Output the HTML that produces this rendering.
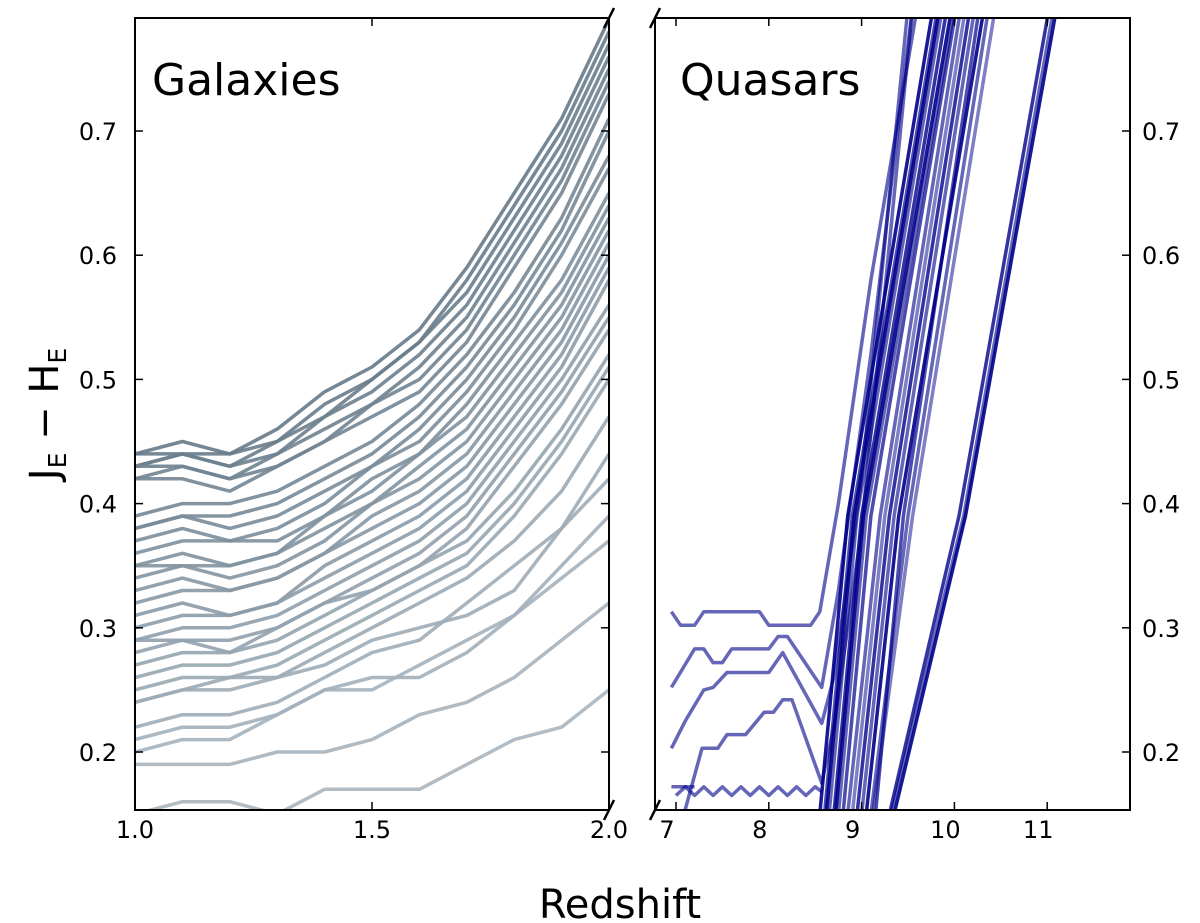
<!DOCTYPE html>
<html><head><meta charset="utf-8"><style>
html,body{margin:0;padding:0;background:#fff;}
svg{display:block;font-family:"DejaVu Sans","Liberation Sans",sans-serif;}
</style></head><body>
<svg id="chart" width="1200" height="923" viewBox="0 0 1200 923" xmlns="http://www.w3.org/2000/svg">
<defs>
<clipPath id="clipL"><rect x="135" y="18" width="474" height="792"/></clipPath>
<clipPath id="clipR"><rect x="655" y="18" width="475" height="792"/></clipPath>
</defs>
<g id="galaxyLines" clip-path="url(#clipL)"></g>
<g id="quasarLines" clip-path="url(#clipR)"></g>
<g id="axes"></g>
<text x="152" y="95" font-size="44" fill="#000">Galaxies</text>
<text x="680" y="95" font-size="44" fill="#000">Quasars</text>
<text x="620" y="918" font-size="40" text-anchor="middle" fill="#000">Redshift</text>
<text transform="translate(58,414) rotate(-90)" font-size="40" text-anchor="middle" fill="#000">J<tspan font-size="25" dy="8">E</tspan><tspan dy="-8"> − H</tspan><tspan font-size="25" dy="8">E</tspan></text>
</svg>
<script>
const galaxyZ = [1.0,1.1,1.2,1.3,1.4,1.5,1.6,1.7,1.8,1.9,2.0];
const galaxyColors = [
[.44,.45,.44,.46,.49,.51,.54,.59,.65,.71,.79],
[.44,.44,.44,.45,.48,.50,.53,.58,.64,.70,.78],
[.43,.44,.43,.45,.47,.50,.53,.57,.63,.69,.77],
[.43,.44,.43,.44,.47,.49,.52,.56,.62,.68,.76],
[.43,.43,.42,.44,.46,.48,.51,.55,.61,.67,.75],
[.42,.43,.42,.43,.45,.48,.50,.54,.60,.66,.74],
[.42,.42,.41,.43,.45,.47,.49,.53,.59,.65,.73],
[.39,.40,.40,.41,.43,.45,.48,.52,.57,.63,.71],
[.38,.39,.39,.40,.42,.44,.47,.51,.56,.62,.70],
[.38,.39,.38,.39,.41,.43,.46,.50,.55,.61,.68],
[.37,.38,.37,.38,.40,.43,.45,.49,.54,.60,.67],
[.36,.37,.37,.37,.39,.42,.44,.48,.53,.58,.65],
[.35,.36,.35,.36,.39,.41,.44,.47,.52,.57,.64],
[.35,.35,.35,.36,.38,.40,.43,.46,.51,.56,.63],
[.34,.35,.34,.35,.37,.40,.42,.45,.50,.55,.62],
[.33,.34,.33,.34,.36,.39,.41,.44,.49,.54,.61],
[.32,.33,.33,.34,.36,.38,.40,.43,.48,.53,.60],
[.31,.32,.31,.32,.35,.37,.39,.42,.47,.52,.59],
[.30,.31,.31,.32,.34,.36,.38,.41,.46,.51,.58],
[.29,.30,.30,.31,.33,.35,.37,.40,.45,.50,.56],
[.29,.29,.29,.30,.32,.34,.36,.39,.44,.49,.55],
[.28,.29,.28,.30,.32,.33,.35,.38,.43,.48,.54],
[.27,.28,.28,.29,.31,.33,.35,.37,.41,.46,.52],
[.26,.27,.27,.28,.30,.32,.34,.36,.40,.45,.51],
[.25,.26,.26,.27,.29,.31,.33,.35,.39,.44,.50],
[.24,.25,.26,.26,.28,.30,.32,.34,.37,.41,.47],
[.24,.25,.25,.26,.27,.29,.30,.31,.33,.38,.44],
[.22,.23,.23,.24,.26,.28,.29,.32,.35,.38,.42],
[.21,.22,.22,.23,.25,.26,.26,.28,.31,.35,.39],
[.20,.21,.21,.23,.25,.25,.27,.29,.31,.34,.37],
[.19,.19,.19,.20,.20,.21,.23,.24,.26,.29,.32],
[.15,.16,.16,.15,.17,.17,.17,.19,.21,.22,.25]
];
const quasarFlat = [
[[6.95,.313],[7.05,.302],[7.2,.302],[7.3,.313],[7.9,.313],[8.0,.302],[8.45,.302],[8.55,.313],[8.75,.40],[9.1,.58],[9.6,.80]],
[[6.95,.252],[7.2,.283],[7.3,.283],[7.4,.272],[7.5,.272],[7.6,.283],[8.0,.283],[8.1,.293],[8.2,.293],[8.57,.252],[8.75,.33],[9.1,.52],[9.55,.80]],
[[6.95,.203],[7.1,.225],[7.3,.25],[7.4,.252],[7.55,.264],[8.0,.264],[8.15,.28],[8.57,.223],[8.7,.26],[9.0,.42],[9.5,.80]],
[[7.05,.14],[7.28,.203],[7.45,.203],[7.55,.214],[7.75,.214],[7.95,.232],[8.05,.232],[8.15,.242],[8.25,.242],[8.57,.175],[8.7,.22],[9.0,.38],[9.55,.80]],
[[6.95,.172],[7.2,.172]],
[[7.0,.165],[7.1,.172],[7.2,.165],[7.3,.172],[7.4,.165],[7.5,.172],[7.6,.165],[7.7,.172],[7.8,.165],[7.9,.172],[8.0,.165],[8.1,.172],[8.2,.165],[8.3,.172],[8.4,.165],[8.5,.172],[8.57,.168]]
];
const steepBottom = [8.55,8.6,8.62,8.65,8.7,8.72,8.75,8.8,8.85,8.9,8.95,9.0,9.05,9.1,9.12,9.15,9.3,9.32,9.35];
const steepMid    = [8.85,8.9,8.92,8.95,9.0,9.02,9.05,9.1,9.2,9.25,9.3,9.35,9.4,9.5,9.55,9.45,10.05,10.1,10.12];
const steepTop    = [9.75,9.8,9.82,9.85,9.9,9.95,9.98,10.0,10.05,10.1,10.15,10.2,10.3,10.35,10.42,10.25,11.0,11.05,11.08];
const steepAlpha  = [0.9,0.7,0.9,0.6,0.8,0.9,0.6,0.7,0.6,0.5,0.8,0.6,0.9,0.6,0.5,0.7,0.8,0.6,0.9];
const yTicks = [0.2,0.3,0.4,0.5,0.6,0.7];
const xTicksL = [1.0,1.5,2.0];
const xTicksR = [7,8,9,10,11];

const NS = "http://www.w3.org/2000/svg";
const yS = v => 131 + (0.7 - v) * 1242;
const xL = z => 135 + (z - 1) * 474;
const xR = z => 676 + (z - 7) * 92.8;
function mk(tag, attrs, parent){const e=document.createElementNS(NS,tag);for(const k in attrs)e.setAttribute(k,attrs[k]);parent.appendChild(e);return e;}
function mix(a,b,t){return Math.round(a+(b-a)*t);}

const gG = document.getElementById('galaxyLines');
galaxyColors.forEach((row,i)=>{
  const t = i/(galaxyColors.length-1);
  const col = `rgb(${mix(0x66,0xa8,t)},${mix(0x7a,0xb5,t)},${mix(0x89,0xbf,t)})`;
  const d = row.map((v,j)=>(j?'L':'M')+xL(galaxyZ[j]).toFixed(1)+','+yS(v).toFixed(1)).join('');
  const p = mk('path',{d:d,fill:'none',stroke:col,'stroke-width':3.5,'stroke-opacity':0.9,'stroke-linejoin':'round'},gG);
  
  
});

const gQ = document.getElementById('quasarLines');
quasarFlat.forEach(line=>{
  const d = line.map((pt,j)=>(j?'L':'M')+xR(pt[0]).toFixed(1)+','+yS(pt[1]).toFixed(1)).join('');
  const p = mk('path',{d:d,fill:'none',stroke:'#00008b','stroke-width':3.5,'stroke-opacity':0.6,'stroke-linejoin':'round'},gQ);
  
  
});
steepBottom.forEach((zb,i)=>{
  const zm = steepMid[i], zt = steepTop[i];
  const pts = [[zb-(zm-zb)*0.15,0.114],[zb,0.15],[zm,0.39],[zt,0.79],[zt+(zt-zm)*0.1,0.83]];
  const d = pts.map((pt,j)=>(j?'L':'M')+xR(pt[0]).toFixed(1)+','+yS(pt[1]).toFixed(1)).join('');
  const p = mk('path',{d:d,fill:'none',stroke:'#00008b','stroke-width':3.5,'stroke-opacity':steepAlpha[i],'stroke-linejoin':'round'},gQ);
  
  
});

const ax = document.getElementById('axes');
mk('path',{d:'M609,18L135,18L135,810L609,810M609,18L609,810',fill:'none',stroke:'#000','stroke-width':2},ax);
mk('path',{d:'M655,18L1130,18L1130,810L655,810M655,18L655,810',fill:'none',stroke:'#000','stroke-width':2},ax);
[[609,18],[609,810],[655,18],[655,810]].forEach(([x,y])=>{
  const b = mk('line',{x1:x-5,y1:y+10,x2:x+5,y2:y-10,stroke:'#000','stroke-width':2.5},ax);
  
  
});
yTicks.forEach(v=>{
  const y = yS(v);
  mk('line',{x1:135,y1:y,x2:143,y2:y,stroke:'#000','stroke-width':1.5},ax);
  mk('line',{x1:601,y1:y,x2:609,y2:y,stroke:'#000','stroke-width':1.5},ax);
  mk('line',{x1:1122,y1:y,x2:1130,y2:y,stroke:'#000','stroke-width':1.5},ax);
  const t1 = mk('text',{x:117,y:y+9,'font-size':24,'text-anchor':'end'},ax);
  t1.textContent = v.toFixed(1);
  
  
  const t2 = mk('text',{x:1142,y:y+9,'font-size':24},ax);
  t2.textContent = v.toFixed(1);
  
  
});
xTicksL.forEach(z=>{
  const x = xL(z);
  mk('line',{x1:x,y1:810,x2:x,y2:802,stroke:'#000','stroke-width':1.5},ax);
  mk('line',{x1:x,y1:18,x2:x,y2:26,stroke:'#000','stroke-width':1.5},ax);
  const t = mk('text',{x:x,y:838,'font-size':24,'text-anchor':'middle'},ax);
  t.textContent = z.toFixed(1);
  
  
});
xTicksR.forEach(z=>{
  const x = xR(z);
  mk('line',{x1:x,y1:810,x2:x,y2:802,stroke:'#000','stroke-width':1.5},ax);
  mk('line',{x1:x,y1:18,x2:x,y2:26,stroke:'#000','stroke-width':1.5},ax);
  const t = mk('text',{x:x-9,y:838,'font-size':24,'text-anchor':'middle'},ax);
  t.textContent = String(z);
  
  
});
</script>
</body></html>
